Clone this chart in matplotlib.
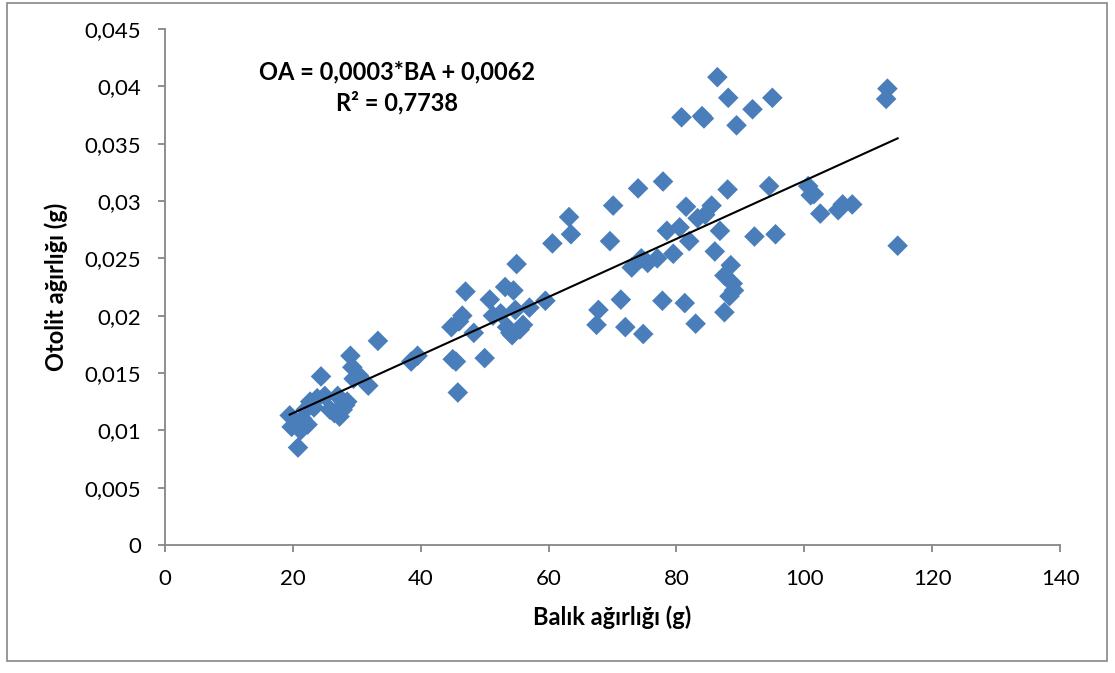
import numpy as np
import matplotlib
matplotlib.use("Agg")
import matplotlib.pyplot as plt
from matplotlib.patches import Rectangle

plt.rcParams['font.family'] = ['Lato', 'DejaVu Sans']

# Fish weight (g) and otolith weight (g)
balik_agirligi = [
    19.5, 19.8, 20.5, 20.8, 21.2, 21.5, 22.0, 22.3, 22.7, 23.3, 23.8, 24.4, 25.0,
    25.8, 26.5, 27.0, 27.3, 27.8, 28.2, 28.5, 29.0, 29.3, 29.5, 30.3, 31.8, 33.3,
    38.5, 39.5, 44.8, 45.0, 45.5, 45.8, 46.0, 46.5, 47.0, 48.3, 50.0, 50.8, 51.3,
    52.5, 53.2, 53.5, 54.0, 54.3, 54.5, 54.8, 55.0, 55.5, 56.0, 57.0, 59.5, 60.6,
    63.2, 63.5,
    67.5, 67.8, 69.6, 70.1, 71.3, 72.0, 73.0, 74.0, 74.5, 74.8, 75.5, 77.0, 77.8,
    77.9, 78.5, 79.5, 80.5, 80.8, 81.3, 81.5, 82.0, 83.0, 83.3, 84.0, 84.3, 84.5,
    85.5, 86.0, 86.4, 86.8, 87.5, 87.5, 88.0, 88.1, 88.3, 88.5, 88.8, 89.0, 89.4,
    91.9, 92.2, 94.5, 95.0, 95.5, 100.6, 101.0, 101.5, 102.5, 105.3, 106.0, 107.5,
    112.8, 113.0, 114.6,
]
otolit_agirligi = [
    0.0113, 0.0103, 0.0106, 0.0085, 0.0100, 0.0110, 0.0118, 0.0105, 0.0125, 0.0120,
    0.0128, 0.0147, 0.0130, 0.0118, 0.0115, 0.0130, 0.0112, 0.0118, 0.0122, 0.0125,
    0.0165, 0.0155, 0.0145, 0.0148, 0.0139, 0.0178,
    0.0160, 0.0165, 0.0190, 0.0162, 0.0160, 0.0133, 0.0195, 0.0200, 0.0221, 0.0185,
    0.0163, 0.0214, 0.0200, 0.0202, 0.0225, 0.0190, 0.0185, 0.0183, 0.0222, 0.0205,
    0.0245, 0.0188, 0.0192, 0.0207, 0.0213, 0.0263, 0.0286, 0.0271,
    0.0192, 0.0205, 0.0265, 0.0296, 0.0214, 0.0190, 0.0242, 0.0311, 0.0250, 0.0184,
    0.0246, 0.0250, 0.0213, 0.0317, 0.0274, 0.0254, 0.0277, 0.0373, 0.0211, 0.0295,
    0.0265, 0.0193, 0.0285, 0.0374, 0.0372, 0.0288, 0.0296, 0.0256, 0.0408, 0.0274,
    0.0203, 0.0235, 0.0310, 0.0390, 0.0217, 0.0244, 0.0228, 0.0222, 0.0366,
    0.0380, 0.0269, 0.0313, 0.0390, 0.0271, 0.0313, 0.0305, 0.0306, 0.0289, 0.0292,
    0.0297, 0.0297, 0.0389, 0.0398, 0.0261,
]

x_ticks = [0, 20, 40, 60, 80, 100, 120, 140]
x_tick_labels = ['0', '20', '40', '60', '80', '100', '120', '140']
y_ticks = [0, 0.005, 0.01, 0.015, 0.02, 0.025, 0.03, 0.035, 0.04, 0.045]
y_tick_labels = ['0', '0,005', '0,01', '0,015', '0,02', '0,025', '0,03',
                 '0,035', '0,04', '0,045']

denklem = 'OA = 0,0003*BA + 0,0062'
r_kare = 'R² = 0,7738'

x = np.array(balik_agirligi)
y = np.array(otolit_agirligi)

fig = plt.figure(figsize=(11.15, 6.73), dpi=100)
fig.patch.set_facecolor('white')
ax = fig.add_axes([0.148, 0.1902, 0.8027, 0.7667])

axis_gray = '#868686'
ax.scatter(x, y, marker='D', s=110, color='#4a7ebb', edgecolors='none', zorder=2)

# Linear trend line fitted to the data
slope, intercept = np.polyfit(x, y, 1)
xl = np.array([x.min(), x.max()])
ax.plot(xl, slope * xl + intercept, color='black', lw=1.5, zorder=3)

ax.set_xlim(0, 140)
ax.set_ylim(0, 0.045)
ax.set_xticks(x_ticks)
ax.set_xticklabels(x_tick_labels)
ax.set_yticks(y_ticks)
ax.set_yticklabels(y_tick_labels)

for side in ('top', 'right'):
    ax.spines[side].set_visible(False)
for side in ('left', 'bottom'):
    ax.spines[side].set_color(axis_gray)
    ax.spines[side].set_linewidth(1.3)
ax.tick_params(axis='both', direction='out', length=5, width=1.3, color=axis_gray,
               labelsize=16, labelcolor='black')
ax.tick_params(axis='x', pad=12)
ax.tick_params(axis='y', pad=12)

ax.set_xlabel('Balık ağırlığı (g)', fontsize=17, fontweight='bold', labelpad=12)
ax.set_ylabel('Otolit ağırlığı (g)', fontsize=17, fontweight='bold', labelpad=12)

fig.text(397 / 1115, 1 - 72 / 673, denklem, fontsize=17, fontweight='bold',
         ha='center', va='center')
fig.text(397 / 1115, 1 - 103 / 673, r_kare, fontsize=17, fontweight='bold',
         ha='center', va='center')

# Chart area border
fig.patches.append(Rectangle((7 / 1115, 1 - 661 / 673), 1100 / 1115, 658 / 673,
                             transform=fig.transFigure, fill=False,
                             edgecolor=axis_gray, linewidth=1.2))

fig.savefig('out.png', dpi=100)
